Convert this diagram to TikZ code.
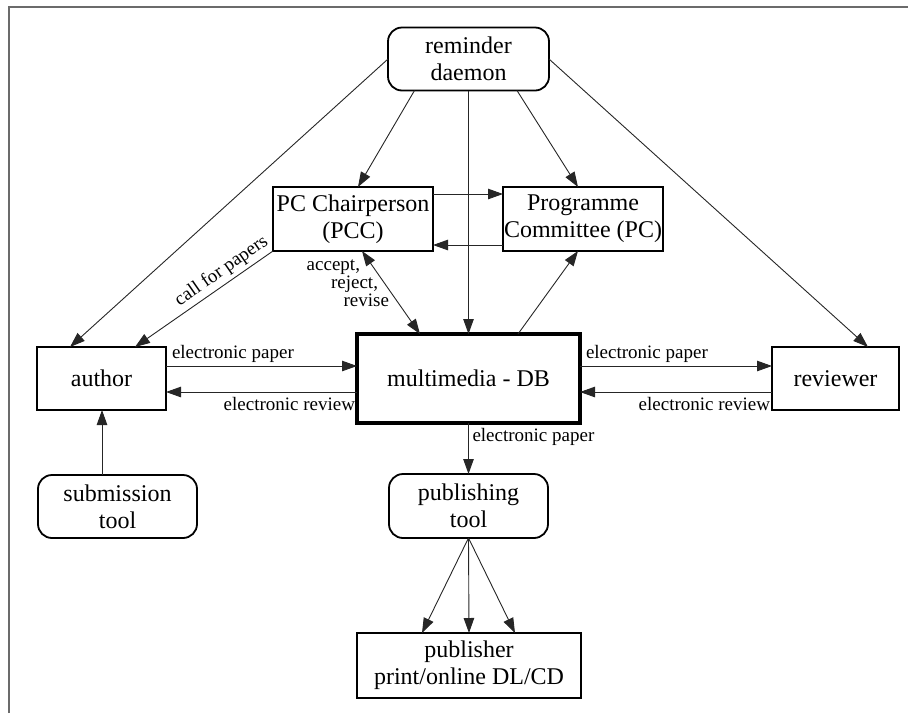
\documentclass[tikz,border=0pt]{standalone}
\usepackage{fontspec}
\setmainfont{Liberation Serif}
\usetikzlibrary{arrows.meta,calc}

\begin{document}
\begin{tikzpicture}[
  x=1pt, y=-1pt,
  every node/.style={inner sep=0pt, outer sep=0pt},
  bigtext/.style={font=\fontsize{24}{27}\selectfont, align=center},
  smalltext/.style={font=\fontsize{19}{20}\selectfont},
  plainbox/.style={bigtext, draw=black, line width=1.8pt, rectangle},
  toolbox/.style={bigtext, draw=black, line width=1.8pt, rectangle, rounded corners=14pt},
  dbbox/.style={bigtext, draw=black, line width=4pt, rectangle},
  flow/.style={draw=black!85, line width=0.9pt, -{Triangle[length=15pt,width=10.5pt]}},
  flowboth/.style={flow, {Triangle[length=15pt,width=10.5pt]}-{Triangle[length=15pt,width=10.5pt]}},
  frameline/.style={draw=black!58, line width=2pt},
]
\useasboundingbox (0,0) rectangle (908,713);

% outer frame (top and left edges only)
\draw[frameline] (8.5,713) -- (8.5,6.5) -- (908,6.5);

% nodes
\node[toolbox, minimum width=161pt, minimum height=63pt] (daemon) at (468.5,59) {reminder\\daemon};
\node[plainbox, minimum width=160pt, minimum height=64pt] (pcc) at (353,219) {PC Chairperson\\(PCC)};
\node[plainbox, minimum width=160pt, minimum height=64pt] (pc) at (583,219) {Programme\\Committee (PC)};
\node[dbbox, minimum width=223pt, minimum height=89pt] (mdb) at (468.5,378.5) {multimedia - DB};
\node[plainbox, minimum width=129pt, minimum height=63pt] (author) at (101.5,378.5) {author};
\node[plainbox, minimum width=127pt, minimum height=63pt] (reviewer) at (835.5,378.5) {reviewer};
\node[toolbox, minimum width=159pt, minimum height=63pt] (subm) at (117.5,506.5) {submission\\tool};
\node[toolbox, minimum width=159pt, minimum height=64pt] (pubtool) at (468.5,506) {publishing\\tool};
\node[plainbox, minimum width=224pt, minimum height=65pt] (publisher) at (469,665.5) {publisher\\print/online DL/CD};

% reminder daemon fan-out
\draw[flow] (daemon.west) -- ([xshift=-31.5pt]author.north);
\draw[flow] ([xshift=-54pt]daemon.south) -- ([xshift=5pt]pcc.north);
\draw[flow] (daemon.south) -- (mdb.north);
\draw[flow] ([xshift=48.5pt]daemon.south) -- ([xshift=-5pt]pc.north);
\draw[flow] (daemon.east) -- ([xshift=32.5pt]reviewer.north);

% chairperson <-> committee
\draw[flow] ([yshift=25pt]pcc.east) -- ([yshift=25pt]pc.west);
\draw[flow] ([yshift=-26pt]pc.west) -- ([yshift=-26pt]pcc.east);

% chairperson <-> database, database -> committee
\draw[flowboth] ([xshift=9pt]pcc.south) -- ([xshift=-48.5pt]mdb.north);
\node[smalltext, anchor=base east] (lacc) at (360,270) {accept,};
\node[smalltext, anchor=base east] (lrej) at (378,288) {reject,};
\node[smalltext, anchor=base east] (lrev) at (389,306) {revise};
\draw[flow] ([xshift=49.5pt]mdb.north) -- ([xshift=-5pt]pc.south);

% call for papers
\draw[flow] (pcc.south west) -- node[smalltext, pos=0.32, sloped, above=4pt] (lcall) {call for papers} ([xshift=33.5pt]author.north);

% author <-> database
\draw[flow] ([yshift=12.5pt]author.east) -- node[smalltext, pos=0, anchor=south west, xshift=6pt, yshift=3pt] (lap) {electronic paper} ([yshift=12.5pt]mdb.west);
\draw[flow] ([yshift=-13.5pt]mdb.west) -- node[smalltext, pos=0, anchor=north east, xshift=-2pt, yshift=-5pt] (lar) {electronic review} ([yshift=-13.5pt]author.east);

% database <-> reviewer
\draw[flow] ([yshift=12.5pt]mdb.east) -- node[smalltext, pos=0, anchor=south west, xshift=6pt, yshift=3pt] (lrp) {electronic paper} ([yshift=12.5pt]reviewer.west);
\draw[flow] ([yshift=-13.5pt]reviewer.west) -- node[smalltext, pos=0, anchor=north east, xshift=-2pt, yshift=-5pt] (lrr) {electronic review} ([yshift=-13.5pt]mdb.east);

% submission tool -> author
\draw[flow] ([xshift=-15.5pt]subm.north) -- ([xshift=0.5pt]author.south);

% database -> publishing tool -> publisher
\draw[flow] (mdb.south) -- node[smalltext, pos=0, anchor=north west, xshift=4pt, yshift=-5pt] (lpp) {electronic paper} (pubtool.north);
\draw[flow] (pubtool.south) -- ([xshift=-47pt]publisher.north);
\draw[flow] (pubtool.south) -- (publisher.north);
\draw[flow] (pubtool.south) -- ([xshift=46pt]publisher.north);
\end{tikzpicture}
\end{document}
